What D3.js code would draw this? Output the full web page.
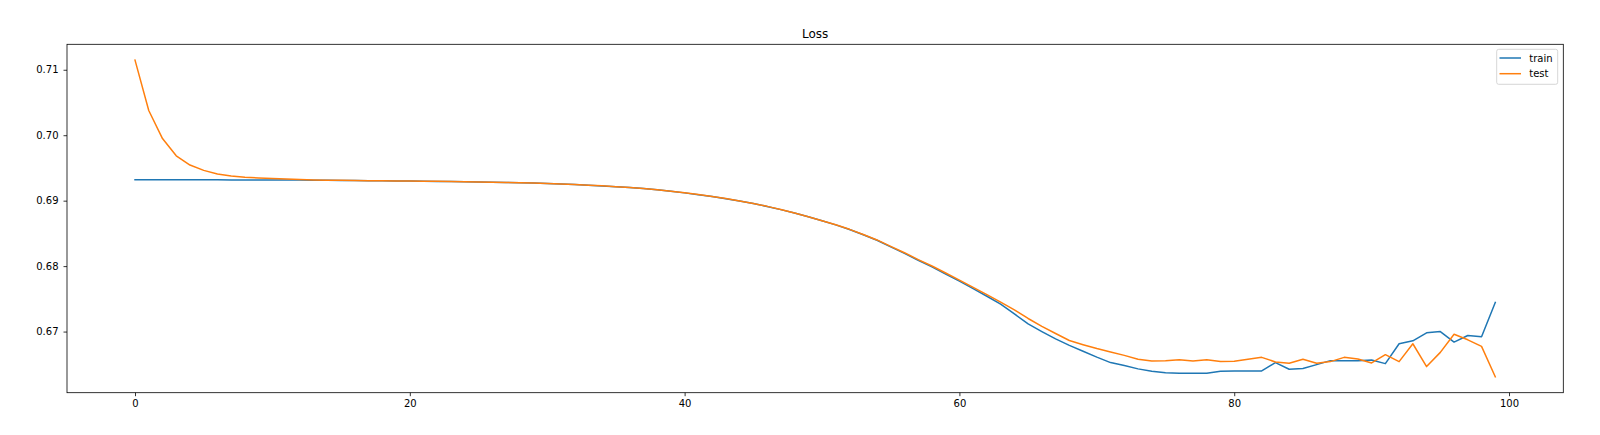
<!DOCTYPE html>
<html>
<head>
<meta charset="utf-8">
<script src="https://cdn.jsdelivr.net/npm/d3@7"></script>
<style>
  html, body { margin: 0; padding: 0; background: #fff; }
  svg { display: block; }
  text { font-family: "DejaVu Sans", sans-serif; fill: #000; }
</style>
</head>
<body>
<svg id="chart" width="1600" height="435"></svg>
<script>
// ---- data ----
const title = "Loss";
const seriesNames = ["train", "test"];
const xTicks = [0, 20, 40, 60, 80, 100];
const yTicks = [0.67, 0.68, 0.69, 0.70, 0.71];

const trainLoss = [
  0.69320, 0.69320, 0.69320, 0.69319, 0.69319, 0.69318, 0.69318, 0.69317, 0.69317, 0.69316,
  0.69316, 0.69315, 0.69314, 0.69312, 0.69311, 0.69309, 0.69307, 0.69305, 0.69303, 0.69301,
  0.69299, 0.69297, 0.69294, 0.69292, 0.69289, 0.69286, 0.69282, 0.69278, 0.69273, 0.69268,
  0.69262, 0.69255, 0.69246, 0.69236, 0.69225, 0.69213, 0.69200, 0.69184, 0.69165, 0.69144,
  0.69119, 0.69092, 0.69063, 0.69031, 0.68995, 0.68955, 0.68912, 0.68863, 0.68810, 0.68753,
  0.68693, 0.68630, 0.68560, 0.68480, 0.68395, 0.68295, 0.68195, 0.68090, 0.67990, 0.67880,
  0.67770, 0.67655, 0.67540, 0.67420, 0.67270, 0.67117, 0.67000, 0.66889, 0.66790, 0.66700,
  0.66610, 0.66526, 0.66480, 0.66430, 0.66394, 0.66370, 0.66365, 0.66364, 0.66364, 0.66394,
  0.66399, 0.66399, 0.66399, 0.66526, 0.66425, 0.66435, 0.66495, 0.66556, 0.66556, 0.66556,
  0.66566, 0.66510, 0.66814, 0.66859, 0.66981, 0.67000, 0.66839, 0.66940, 0.66920, 0.67446
];

const testLoss = [
  0.71147, 0.70378, 0.69949, 0.69685, 0.69544, 0.69463, 0.69407, 0.69377, 0.69357, 0.69347,
  0.69338, 0.69330, 0.69322, 0.69316, 0.69312, 0.69310, 0.69308, 0.69306, 0.69304, 0.69302,
  0.69300, 0.69298, 0.69295, 0.69293, 0.69290, 0.69287, 0.69283, 0.69279, 0.69274, 0.69269,
  0.69263, 0.69256, 0.69247, 0.69237, 0.69226, 0.69214, 0.69201, 0.69185, 0.69166, 0.69145,
  0.69120, 0.69093, 0.69064, 0.69032, 0.68996, 0.68956, 0.68913, 0.68864, 0.68811, 0.68754,
  0.68694, 0.68631, 0.68562, 0.68483, 0.68400, 0.68302, 0.68205, 0.68100, 0.68002, 0.67895,
  0.67785, 0.67675, 0.67565, 0.67450, 0.67330, 0.67200, 0.67080, 0.66970, 0.66864, 0.66800,
  0.66740, 0.66688, 0.66636, 0.66576, 0.66551, 0.66556, 0.66571, 0.66551, 0.66571, 0.66541,
  0.66546, 0.66576, 0.66606, 0.66536, 0.66516, 0.66576, 0.66516, 0.66541, 0.66606, 0.66581,
  0.66521, 0.66647, 0.66541, 0.66814, 0.66465, 0.66682, 0.66960, 0.66874, 0.66773, 0.66308
];

const colors = ["#1f77b4", "#ff7f0e"];

// ---- layout ----
const W = 1600, H = 435;
const plot = { left: 67, right: 1563.3, top: 44.3, bottom: 392.7 };

const svg = d3.select("#chart");

const n = trainLoss.length;
const xPad = (n - 1) * 0.05;
const x = d3.scaleLinear().domain([0 - xPad, (n - 1) + xPad]).range([plot.left, plot.right]);

const allVals = trainLoss.concat(testLoss);
const yMin = d3.min(allVals), yMax = d3.max(allVals);
const yPad = (yMax - yMin) * 0.05;
const y = d3.scaleLinear().domain([yMin - yPad, yMax + yPad]).range([plot.bottom, plot.top]);

// clip
svg.append("defs").append("clipPath").attr("id", "clip")
  .append("rect")
  .attr("x", plot.left).attr("y", plot.top)
  .attr("width", plot.right - plot.left).attr("height", plot.bottom - plot.top);

// lines
const line = d3.line().x((d, i) => x(i)).y(d => y(d));
const series = [trainLoss, testLoss];
const gLines = svg.append("g").attr("clip-path", "url(#clip)");
series.forEach((s, k) => {
  gLines.append("path")
    .datum(s)
    .attr("d", line)
    .attr("fill", "none")
    .attr("stroke", colors[k])
    .attr("stroke-width", 1.5)
    .attr("stroke-linejoin", "round")
    .attr("stroke-linecap", "square");
});

// axes
const xAxis = d3.axisBottom(x).tickValues(xTicks).tickFormat(d3.format("d"))
  .tickSizeInner(3.5).tickSizeOuter(0).tickPadding(3.5);
const yAxis = d3.axisLeft(y).tickValues(yTicks).tickFormat(d3.format(".2f"))
  .tickSizeInner(3.5).tickSizeOuter(0).tickPadding(5);

const gx = svg.append("g").attr("transform", `translate(0,${plot.bottom})`).call(xAxis);
const gy = svg.append("g").attr("transform", `translate(${plot.left},0)`).call(yAxis);
[gx, gy].forEach(g => {
  g.select(".domain").remove();
  g.selectAll(".tick line").attr("stroke", "#000").attr("stroke-width", 0.8);
  g.selectAll(".tick text")
    .attr("font-family", "DejaVu Sans, sans-serif")
    .attr("font-size", 10)
    .attr("fill", "#000");
});

// spines
svg.append("rect")
  .attr("x", plot.left).attr("y", plot.top)
  .attr("width", plot.right - plot.left).attr("height", plot.bottom - plot.top)
  .attr("fill", "none").attr("stroke", "#000").attr("stroke-width", 0.8);

// title
svg.append("text")
  .attr("x", (plot.left + plot.right) / 2)
  .attr("y", 37.5)
  .attr("text-anchor", "middle")
  .attr("font-size", 12)
  .text(title);

// legend
const lg = svg.append("g");
lg.append("rect")
  .attr("x", 1496.7).attr("y", 49.3)
  .attr("width", 61).attr("height", 35)
  .attr("rx", 2).attr("ry", 2)
  .attr("fill", "#fff").attr("fill-opacity", 0.8)
  .attr("stroke", "#ccc").attr("stroke-width", 0.8);
seriesNames.forEach((name, k) => {
  const yy = 58 + k * 15.7;
  lg.append("line")
    .attr("x1", 1499.5).attr("x2", 1521)
    .attr("y1", yy).attr("y2", yy)
    .attr("stroke", colors[k]).attr("stroke-width", 1.5);
  lg.append("text")
    .attr("x", 1529.3).attr("y", yy + 3.6)
    .attr("font-size", 10)
    .text(name);
});
</script>
</body>
</html>
